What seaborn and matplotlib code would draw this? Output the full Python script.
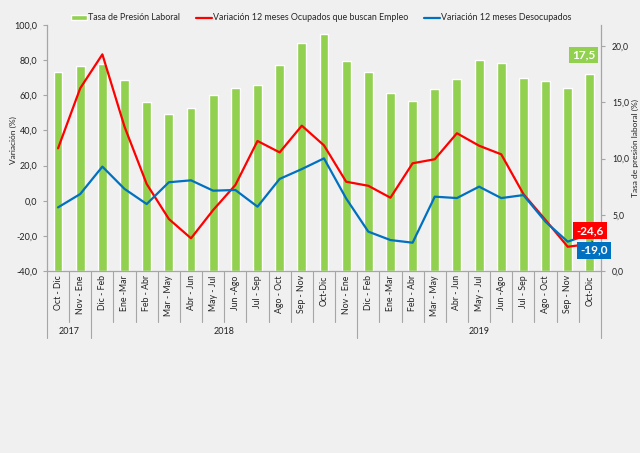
import numpy as np
import matplotlib.pyplot as plt
import seaborn as sns

# datos
periodos = ['Oct - Dic', 'Nov - Ene',
            'Dic - Feb', 'Ene -Mar', 'Feb - Abr', 'Mar - May', 'Abr - Jun', 'May - Jul',
            'Jun -Ago', 'Jul - Sep', 'Ago - Oct', 'Sep - Nov', 'Oct-Dic', 'Nov - Ene',
            'Dic - Feb', 'Ene -Mar', 'Feb - Abr', 'Mar - May', 'Abr - Jun', 'May - Jul',
            'Jun -Ago', 'Jul - Sep', 'Ago - Oct', 'Sep - Nov', 'Oct-Dic']
anios = ['2017', '2018', '2019']
n_por_anio = [2, 12, 11]

tasa_presion = [17.7, 18.2, 18.4, 17.0, 15.05, 14.0, 14.45, 15.65, 16.25, 16.5, 18.3, 20.25,
                21.05, 18.7, 17.65, 15.85, 15.1, 16.15, 17.05, 18.8, 18.45, 17.15, 16.9, 16.25, 17.5]
var_ocupados = [29.8, 64.0, 83.3, 42.1, 9.5, -10.4, -21.4, -5.3, 8.9, 34.0, 27.5, 42.7,
                31.5, 10.8, 8.5, 1.7, 21.3, 23.6, 38.4, 31.3, 26.4, 3.8, -11.0, -26.2, -24.6]
var_desocupados = [-3.8, 3.8, 19.4, 6.7, -1.9, 10.5, 11.6, 5.7, 6.1, -3.4, 12.4, 18.0,
                   24.1, 1.3, -17.6, -22.4, -23.9, 2.3, 1.5, 8.0, 1.5, 3.2, -12.0, -23.3, -19.0]

sns.set_theme(style='white')
plt.rcParams['font.family'] = ['Lato', 'DejaVu Sans']

fondo = '#F0F0F0'
verde = '#92D050'
rojo = '#FF0000'
azul = '#0070C0'
gris = '#A6A6A6'

fig = plt.figure(figsize=(6.4, 4.53), dpi=100, facecolor=fondo)
ax = fig.add_axes([0.0734, 0.4018, 0.8656, 0.543])
ax.set_facecolor(fondo)

pos = np.arange(len(periodos))
sns.barplot(x=pos, y=tasa_presion, color=verde, saturation=1, width=0.4,
            ax=ax, label='Tasa de Presión Laboral')

ax2 = ax.twinx()
sns.lineplot(x=pos, y=var_ocupados, color=rojo, lw=1.6, ax=ax2,
             label='Variación 12 meses Ocupados que buscan Empleo')
sns.lineplot(x=pos, y=var_desocupados, color=azul, lw=1.6, ax=ax2,
             label='Variación 12 meses Desocupados')

# ejes
ax.set_xlim(-0.5, len(periodos) - 0.5)
ax.set_ylim(0, 21.87)
ax.yaxis.tick_right()
ax.set_yticks([0, 5, 10, 15, 20])
ax.set_yticklabels(['0,0', '5,0', '10,0', '15,0', '20,0'], fontsize=6.2, color='#222222')
ax.set_xticks(pos)
ax.set_xticklabels(periodos, rotation=90, fontsize=6.3, color='#222222', va='top')
ax.tick_params(axis='x', length=0, pad=3)
ax.tick_params(axis='y', length=3, width=0.8, color=gris, pad=5, right=True, left=False)
ax.set_xlabel('')
ax.set_ylabel('')

ax2.yaxis.tick_left()
ax2.set_ylim(-40, 100)
ax2.set_yticks(np.arange(-40, 101, 20))
ax2.set_yticklabels([f'{v:.1f}'.replace('.', ',') for v in np.arange(-40, 101, 20)],
                    fontsize=6.5, color='#222222')
ax2.tick_params(axis='y', length=3, width=0.8, color=gris, pad=4, left=True, right=False)

for s in ['top', 'left']:
    ax.spines[s].set_visible(False)
for s in ['right', 'bottom']:
    ax.spines[s].set_color(gris)
    ax.spines[s].set_linewidth(0.9)
for s in ['top', 'right', 'bottom']:
    ax2.spines[s].set_visible(False)
ax2.spines['left'].set_color(gris)
ax2.spines['left'].set_linewidth(0.9)

fig.text(13 / 640, 1 - 140 / 453, 'Variación (%)', rotation=90, ha='center', va='center',
         fontsize=6, color='#222222')
fig.text(635.5 / 640, 1 - 148 / 453, 'Tasa de presión laboral (%)', rotation=90,
         ha='center', va='center', fontsize=6, color='#222222')

# separadores de categorias y años
trans = ax.get_xaxis_transform()
limites = np.cumsum([0] + n_por_anio) - 0.5
for i in range(len(periodos) + 1):
    x = i - 0.5
    y0 = -0.272 if x in limites else -0.207
    ax.plot([x, x], [0, y0], transform=trans, clip_on=False, color=gris, lw=0.8)
for k, anio in enumerate(anios):
    ax.text((limites[k] + limites[k + 1]) / 2, -0.245, anio, transform=trans,
            ha='center', va='center', fontsize=6.5, color='#222222')

# etiquetas de datos
ax.text(23.73, 19.2, '17,5', ha='center', va='center', color='white', fontsize=8.5,
        fontweight='bold', bbox=dict(boxstyle='square,pad=0.25', fc=verde, ec='none'))
ax2.plot([24.09, 24.32], [-22.9, -29.2], color='black', lw=0.6, zorder=4)
ax2.text(24.0, -17.2, '-24,6', ha='center', va='center', color='white', fontsize=8.5,
         fontweight='bold', zorder=5,
         bbox=dict(boxstyle='square,pad=0.25', fc=rojo, ec='none'))
ax2.text(24.18, -28.1, '-19,0', ha='center', va='center', color='white', fontsize=8.5,
         fontweight='bold', zorder=5,
         bbox=dict(boxstyle='square,pad=0.25', fc=azul, ec='none'))

# leyenda
h1, l1 = ax.get_legend_handles_labels()
h2, l2 = ax2.get_legend_handles_labels()
for a in (ax, ax2):
    if a.get_legend() is not None:
        a.get_legend().remove()
fig.legend(h1 + h2, l1 + l2, loc='center', bbox_to_anchor=(0.502, 1 - 18 / 453), ncol=3,
           frameon=False, fontsize=6.4, handlelength=1.8, handletextpad=0.1,
           columnspacing=1.8, handleheight=0.6)

fig.savefig('out.png', dpi=100, facecolor=fondo)
